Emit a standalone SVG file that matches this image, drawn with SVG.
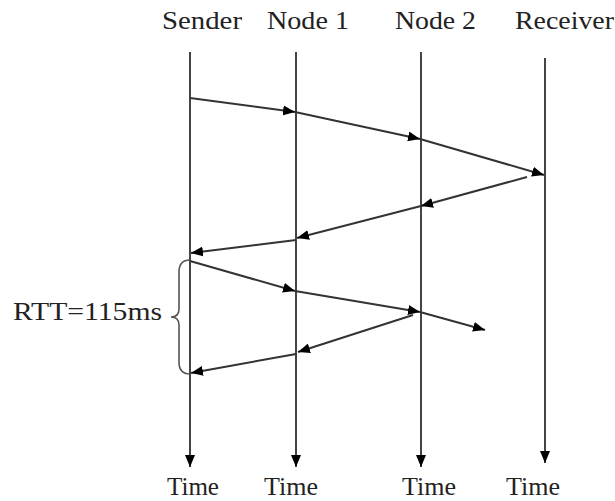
<svg xmlns="http://www.w3.org/2000/svg" width="615" height="501" viewBox="0 0 615 501">
<style>
.t{font-family:"Liberation Serif","Times New Roman",serif;font-size:25px;fill:#222}
.life{stroke:#444;stroke-width:2;fill:none}
.msg{stroke:#333;stroke-width:2;fill:none}
.brace{stroke:#555;stroke-width:1.6;fill:none}
</style>
<defs>
<marker id="ah" viewBox="0 0 12 10" refX="12" refY="5" markerWidth="12" markerHeight="10" markerUnits="userSpaceOnUse" orient="auto">
<path d="M0,0 L12,5 L0,10 Z" fill="#000"/>
</marker>
</defs>
<rect width="615" height="501" fill="#fff"/>
<g id="sender">
<text class="t" x="162" y="29" textLength="80" lengthAdjust="spacingAndGlyphs">Sender</text>
<line class="life" x1="190" y1="52" x2="190" y2="467" marker-end="url(#ah)"/>
<text class="t" x="167" y="495" textLength="52" lengthAdjust="spacingAndGlyphs">Time</text>
</g>
<g id="node1">
<text class="t" x="267" y="29" textLength="82" lengthAdjust="spacingAndGlyphs">Node 1</text>
<line class="life" x1="296" y1="52" x2="296" y2="467" marker-end="url(#ah)"/>
<text class="t" x="264" y="495" textLength="54" lengthAdjust="spacingAndGlyphs">Time</text>
</g>
<g id="node2">
<text class="t" x="395" y="29" textLength="81" lengthAdjust="spacingAndGlyphs">Node 2</text>
<line class="life" x1="421" y1="52" x2="421" y2="467" marker-end="url(#ah)"/>
<text class="t" x="402" y="495" textLength="54" lengthAdjust="spacingAndGlyphs">Time</text>
</g>
<g id="receiver">
<text class="t" x="515" y="29" textLength="99" lengthAdjust="spacingAndGlyphs">Receiver</text>
<line class="life" x1="545" y1="58" x2="545" y2="463" marker-end="url(#ah)"/>
<text class="t" x="506" y="495" textLength="54" lengthAdjust="spacingAndGlyphs">Time</text>
</g>
<g id="rtt">
<path class="brace" d="M190,260 Q179,260 179,272 L179,309 Q179,317 171,317 Q179,317 179,325 L179,362 Q179,374 190,374"/>
<text class="t" x="13" y="320" textLength="149" lengthAdjust="spacingAndGlyphs">RTT=115ms</text>
</g>
<g id="connectors">
<line class="msg" x1="190" y1="98" x2="295" y2="112" marker-end="url(#ah)"/>
<line class="msg" x1="295" y1="112" x2="420" y2="139" marker-end="url(#ah)"/>
<line class="msg" x1="420" y1="139" x2="544" y2="175" marker-end="url(#ah)"/>
<line class="msg" x1="527" y1="177" x2="421" y2="206" marker-end="url(#ah)"/>
<line class="msg" x1="421" y1="206" x2="297" y2="238" marker-end="url(#ah)"/>
<line class="msg" x1="296" y1="240" x2="191" y2="253" marker-end="url(#ah)"/>
<line class="msg" x1="190" y1="261" x2="295" y2="291" marker-end="url(#ah)"/>
<line class="msg" x1="295" y1="291" x2="420" y2="312" marker-end="url(#ah)"/>
<line class="msg" x1="420" y1="312" x2="485" y2="330" marker-end="url(#ah)"/>
<line class="msg" x1="413" y1="315" x2="298" y2="352" marker-end="url(#ah)"/>
<line class="msg" x1="296" y1="354" x2="191" y2="373" marker-end="url(#ah)"/>
</g>
</svg>
